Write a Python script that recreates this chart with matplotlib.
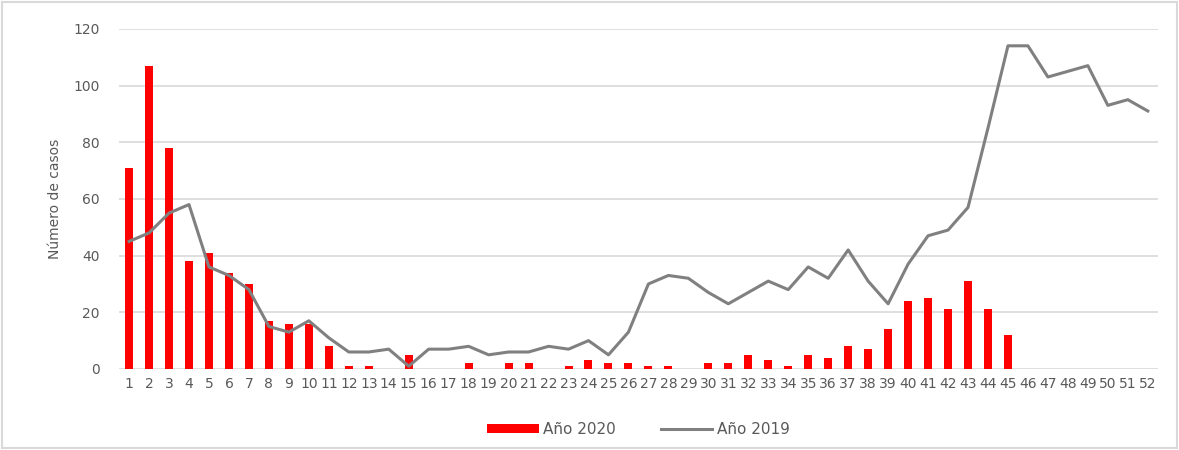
import numpy as np
import matplotlib.pyplot as plt
from matplotlib.patches import Rectangle

#%% data
semanas = list(range(1, 53))
casos_2020 = [71, 107, 78, 38, 41, 34, 30, 17, 16, 16, 8, 1, 1, 0, 5, 0, 0, 2, 0, 2,
              2, 0, 1, 3, 2, 2, 1, 1, 0, 2, 2, 5, 3, 1, 5, 4, 8, 7, 14, 24,
              25, 21, 31, 21, 12]
casos_2019 = [45, 48, 55, 58, 36, 33, 28, 15, 13, 17, 11, 6, 6, 7, 1, 7, 7, 8, 5, 6,
              6, 8, 7, 10, 5, 13, 30, 33, 32, 27, 23, 27, 31, 28, 36, 32, 42, 31, 23, 37,
              47, 49, 57, 85, 114, 114, 103, 105, 107, 93, 95, 91]
y_ticks = [0, 20, 40, 60, 80, 100, 120]

#%%
fig = plt.figure(figsize=(11.79, 4.5), dpi=100)
ax = fig.add_axes([0.101, 0.18, 0.881, 0.756])

ax.set_axisbelow(True)
ax.grid(axis='y', color='#d9d9d9', linewidth=1.2)
barras = ax.bar(semanas[:len(casos_2020)], casos_2020, width=0.4, color='#ff0000', label='Año 2020', zorder=2)
linea, = ax.plot(semanas, casos_2019, color='#808080', linewidth=2.2, label='Año 2019', zorder=3)

ax.set_xlim(0.5, 52.5)
ax.set_ylim(0, 120)
ax.set_yticks(y_ticks)
ax.set_xticks(semanas)
ax.tick_params(axis='both', length=0, colors='#595959', labelsize=10)
ax.tick_params(axis='x', pad=6)
ax.tick_params(axis='y', pad=14)
for s in ax.spines.values():
    s.set_visible(False)
ax.set_ylabel('Número de casos', fontsize=10, color='#595959', labelpad=8)

leg = ax.legend([barras, linea], ['Año 2020', 'Año 2019'], loc='upper center',
                bbox_to_anchor=(0.5, -0.115), ncol=2, frameon=False, fontsize=11,
                labelcolor='#595959', handlelength=3.4, handleheight=0.5,
                handletextpad=0.3, columnspacing=2.9)

fig.patches.append(Rectangle((0.002, 0.004), 0.996, 0.992, transform=fig.transFigure,
                             fill=False, edgecolor='#d9d9d9', linewidth=1.5))
fig.savefig('out.png', dpi=100)
